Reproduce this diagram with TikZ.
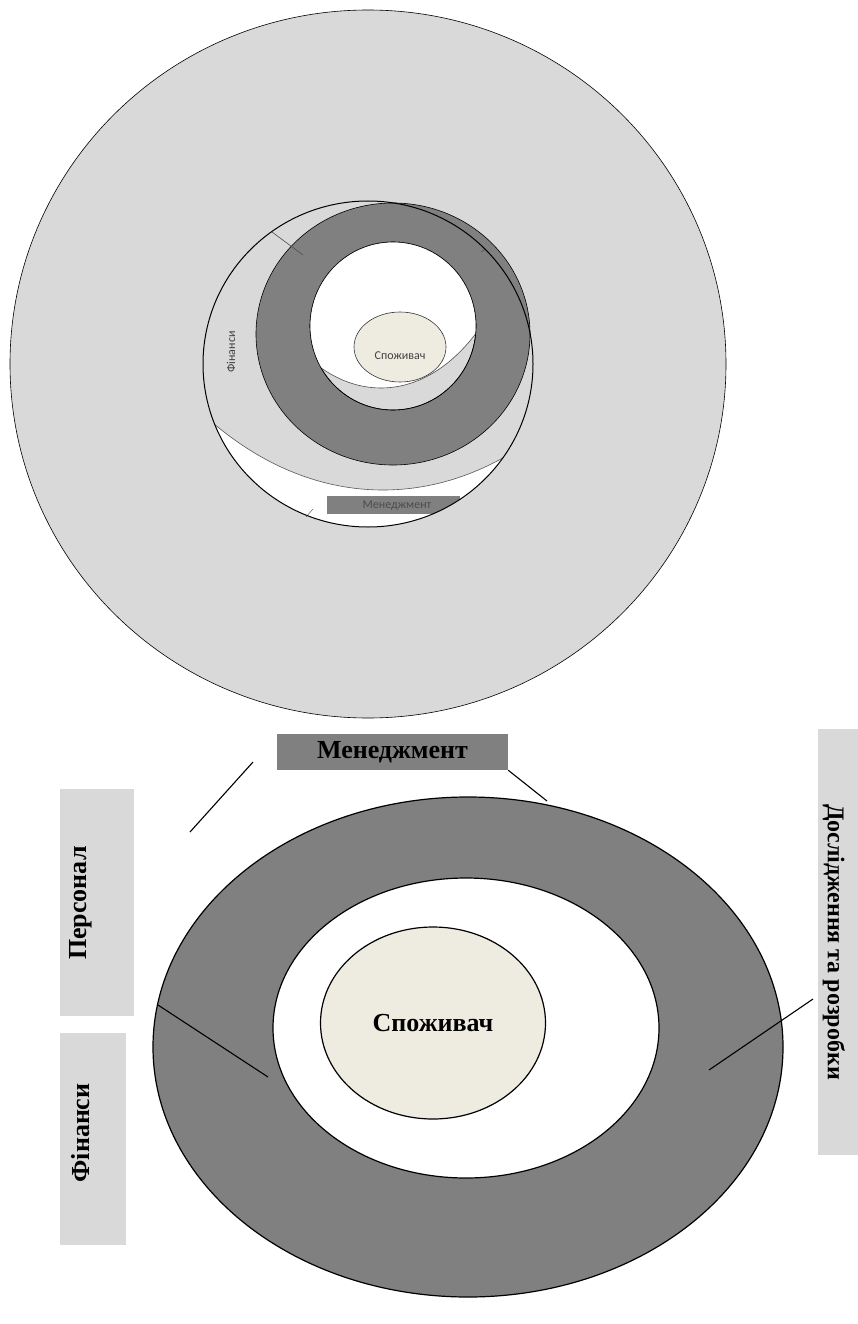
\documentclass[tikz,border=0pt]{standalone}
\usepackage{fontspec}
\setmainfont{Liberation Serif}
\newfontfamily\calibrifont{Carlito}
\usepackage{xcolor}
\usetikzlibrary{shapes.geometric,positioning}

\definecolor{lightgrey}{HTML}{D9D9D9}
\definecolor{darkgrey}{HTML}{808080}
\definecolor{cream}{HTML}{EEECE1}

\begin{document}
\begin{tikzpicture}[
  x=1pt, y=-1pt,
  ring/.style={draw=black, line width=1.2pt, fill=darkgrey},
  tag/.style={fill=lightgrey, inner sep=0pt},
  bigtext/.style={font=\fontsize{26}{30}\selectfont\bfseries},
  smalltext/.style={font=\calibrifont\fontsize{12}{14}\selectfont, text=black!75},
  pointer/.style={line width=1.1pt},
  thinline/.style={line width=0.6pt},
]
  \useasboundingbox (0,0) rectangle (858,1324);

  % Upper sketch: outer disc
  \filldraw[fill=lightgrey, draw=black, thinline] (368,364) ellipse [x radius=358pt, y radius=354pt];

  % Inner circle with its shaded band
  \begin{scope}
    \clip (368,364) ellipse [x radius=165pt, y radius=163pt];
    \fill[white] (368,364) ellipse [x radius=165pt, y radius=163pt];
    \filldraw[fill=lightgrey, draw=black!65, thinline] (383,-43) ellipse [x radius=350pt, y radius=533pt];
    % small bar near the bottom
    \fill[darkgrey] (327,496) rectangle (460,514);
  \end{scope}
  \node[smalltext, text=black!70] (topmgmt) at (397,506) {Менеджмент};

  % Dark ring and its hole
  \filldraw[fill=darkgrey, draw=black, thinline] (393,334) ellipse [x radius=137pt, y radius=131pt];
  \filldraw[fill=lightgrey, draw=black, thinline] (393,326) ellipse [x radius=83pt, y radius=84pt];
  \begin{scope}
    \clip (393,326) ellipse [x radius=83pt, y radius=84pt];
    \filldraw[fill=white, draw=black!70, thinline] (381,146) ellipse [x radius=150pt, y radius=242pt];
  \end{scope}
  \draw[black, thinline] (393,326) ellipse [x radius=83pt, y radius=84pt];

  % Centre
  \node[ellipse, draw=black!80, fill=cream, thinline, minimum width=92pt,
    minimum height=70pt, inner sep=0pt] (topcons) at (400,347) {};
  \node[smalltext] at ([yshift=-9pt]topcons.center) {Споживач};
  \node[smalltext, rotate=90] (topfin) at (231,352) {Фінанси};

  % Ticks
  \draw[black!70, thinline] (272,232) -- (303,255);
  \draw[black!60, line width=0.5pt] (306,517) -- (313,509);
  \draw[black!70, line width=0.5pt] (481,252) -- (486,249);

  \draw[black, line width=1pt] (368,364) ellipse [x radius=165pt, y radius=163pt];

  % Lower sketch: ring and centre
  \filldraw[ring] (468,1047) ellipse [x radius=315pt, y radius=250pt];
  \filldraw[fill=white, draw=black, line width=1.2pt] (466,1028) ellipse [x radius=193pt, y radius=150pt];
  \node[ellipse, draw=black, fill=cream, line width=1.2pt, minimum width=225pt,
    minimum height=192pt, bigtext] (consumer) at (433,1023) {Споживач};

  % Labels
  \node[fill=darkgrey, minimum width=231pt, minimum height=36pt, inner sep=0pt,
    bigtext] (mgmt) at (392.5,752) {Менеджмент};
  \node[tag, minimum width=74pt, minimum height=227pt] (staffbox) at (97,902.5) {};
  \node[bigtext, rotate=90] (staff) at (81,903) {Персонал};
  \node[tag, minimum width=66pt, minimum height=212pt] (finbox) at (93,1139) {};
  \node[bigtext, rotate=90] (fin) at (81,1133) {Фінанси};
  \node[tag, minimum width=45pt, minimum height=426pt] (rdbox) at (840.5,942) {};
  \node[bigtext, font=\fontsize{24}{28}\selectfont\bfseries, rotate=-90] (rd) at (834,942) {Дослідження та розробки};

  % Pointer lines
  \coordinate (m1) at (547,801);
  \coordinate (s1) at (253,762);
  \coordinate (s2) at (190,832);
  \coordinate (f1) at (158,1005);
  \coordinate (f2) at (268,1077);
  \coordinate (r1) at (813,999);
  \coordinate (r2) at (709,1070);
  \draw[pointer] (mgmt.south east) -- (m1);
  \draw[pointer] (s1) -- (s2);
  \draw[pointer] (f1) -- (f2);
  \draw[pointer] (r1) -- (r2);
\end{tikzpicture}
\end{document}
